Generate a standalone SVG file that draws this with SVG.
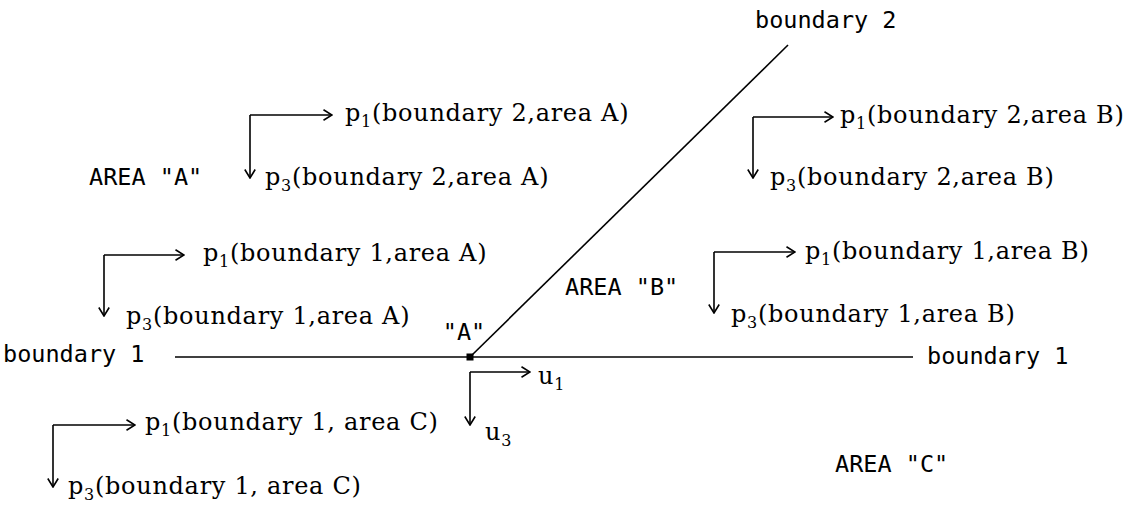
<svg xmlns="http://www.w3.org/2000/svg" width="1132" height="508" viewBox="0 0 1132 508">
<style>
.bg{fill:#ffffff}
.ln{stroke:#000;stroke-width:1.6;fill:none}
.ar{stroke:#000;stroke-width:1.6;fill:none;marker-end:url(#ah)}
.sans{font-family:"DejaVu Sans Mono","Liberation Mono",monospace;font-size:23.5px;fill:#000}
.ser{font-family:"DejaVu Serif","Liberation Serif",serif;font-size:24px;letter-spacing:0.7px;fill:#000}
.sub{font-size:16px}
</style>
<defs>
<marker id="ah" viewBox="0 0 10 12" refX="9.5" refY="6" markerWidth="10" markerHeight="12" markerUnits="userSpaceOnUse" orient="auto">
<path d="M1,0.8 L9.5,6 L1,11.2" fill="none" stroke="#000" stroke-width="1.6"/>
</marker>
</defs>
<rect class="bg" x="0" y="0" width="1132" height="508"/>

<g id="connectors">
<line class="ln" x1="175" y1="357" x2="913" y2="357"/>
<line class="ln" x1="470" y1="357" x2="788" y2="45"/>
</g>

<g id="point-A">
<rect x="466.5" y="353.5" width="7" height="7" fill="#000"/>
<text class="sans" x="464" y="340" text-anchor="middle">"A"</text>
</g>

<g id="boundary-labels">
<text class="sans" x="755" y="28">boundary 2</text>
<text class="sans" x="3" y="362">boundary 1</text>
<text class="sans" x="927" y="364">boundary 1</text>
</g>

<g id="area-labels">
<text class="sans" x="89" y="185">AREA "A"</text>
<text class="sans" x="565" y="295">AREA "B"</text>
<text class="sans" x="835" y="472">AREA "C"</text>
</g>

<g id="frame-b2-areaA">
<path class="ar" d="M250,115 H332"/>
<path class="ar" d="M250,115 V178"/>
<text class="ser" x="345" y="121">p<tspan class="sub" dy="6">1</tspan><tspan dy="-6">(boundary 2,area A)</tspan></text>
<text class="ser" x="265" y="185">p<tspan class="sub" dy="6">3</tspan><tspan dy="-6">(boundary 2,area A)</tspan></text>
</g>

<g id="frame-b2-areaB">
<path class="ar" d="M753,117 H833"/>
<path class="ar" d="M753,117 V178"/>
<text class="ser" x="840" y="123">p<tspan class="sub" dy="6">1</tspan><tspan dy="-6">(boundary 2,area B)</tspan></text>
<text class="ser" x="770" y="185">p<tspan class="sub" dy="6">3</tspan><tspan dy="-6">(boundary 2,area B)</tspan></text>
</g>

<g id="frame-b1-areaA">
<path class="ar" d="M104,255 H184"/>
<path class="ar" d="M104,255 V316"/>
<text class="ser" x="203" y="261">p<tspan class="sub" dy="6">1</tspan><tspan dy="-6">(boundary 1,area A)</tspan></text>
<text class="ser" x="126" y="324">p<tspan class="sub" dy="6">3</tspan><tspan dy="-6">(boundary 1,area A)</tspan></text>
</g>

<g id="frame-b1-areaB">
<path class="ar" d="M714,252 H795"/>
<path class="ar" d="M714,252 V313"/>
<text class="ser" x="805" y="259">p<tspan class="sub" dy="6">1</tspan><tspan dy="-6">(boundary 1,area B)</tspan></text>
<text class="ser" x="731" y="322">p<tspan class="sub" dy="6">3</tspan><tspan dy="-6">(boundary 1,area B)</tspan></text>
</g>

<g id="frame-u">
<path class="ar" d="M470,372 H530"/>
<path class="ar" d="M470,372 V425"/>
<text class="ser" x="538" y="384">u<tspan class="sub" dy="6">1</tspan></text>
<text class="ser" x="485" y="440">u<tspan class="sub" dy="6">3</tspan></text>
</g>

<g id="frame-b1-areaC">
<path class="ar" d="M53,425 H135"/>
<path class="ar" d="M53,425 V487"/>
<text class="ser" x="145" y="430">p<tspan class="sub" dy="6">1</tspan><tspan dy="-6">(boundary 1, area C)</tspan></text>
<text class="ser" x="68" y="494">p<tspan class="sub" dy="6">3</tspan><tspan dy="-6">(boundary 1, area C)</tspan></text>
</g>
</svg>
